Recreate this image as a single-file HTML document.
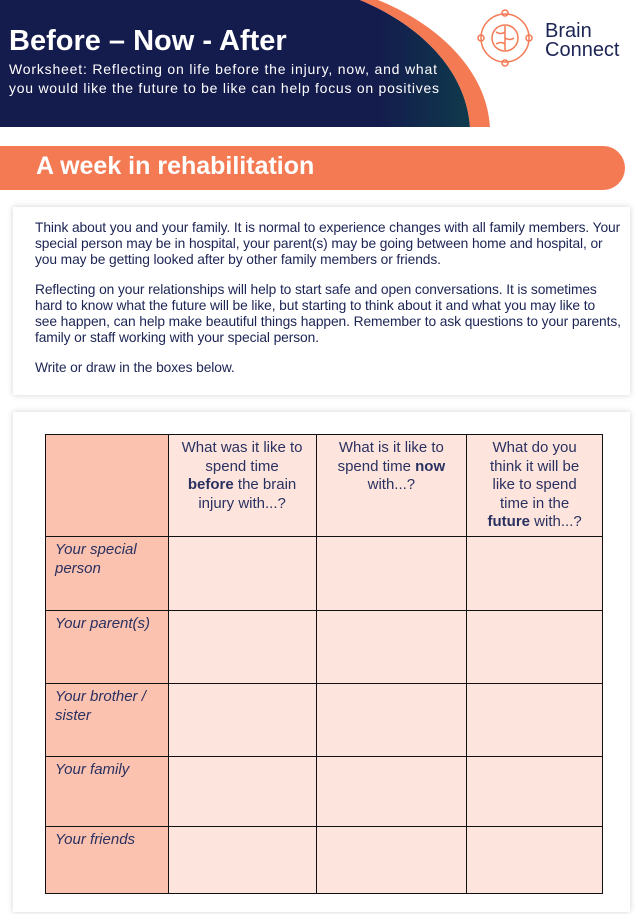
<!DOCTYPE html>
<html><head><meta charset="utf-8"><style>
*{margin:0;padding:0;box-sizing:border-box}
body{width:641px;height:914px;background:#fff;font-family:"Liberation Sans",sans-serif;position:relative;overflow:hidden;color:#1c2454}
.abs{position:absolute}
.card{position:absolute;background:#fff;box-shadow:0 0 6px rgba(0,0,0,0.18)}
table{border-collapse:collapse;position:absolute;left:45px;top:434px;width:558px}
td{border:1px solid #111;background:#fde5de;vertical-align:top;font-size:15px;line-height:18.5px;color:#2a3160}
td.l{background:#fcc2b0;font-style:italic;padding:4px 9px}
tr.h td{text-align:center;padding:4px 4px;white-space:nowrap}
.txt{white-space:nowrap}
</style></head><body>
<svg class="abs" style="left:0;top:0" width="641" height="130">
<defs><linearGradient id="g" x1="0" x2="1"><stop offset="0.8" stop-color="#141b4d"/><stop offset="1" stop-color="#0f3a4c"/></linearGradient></defs>
<path d="M0,0 H360 C420,25 466,70 470,127 H0 Z" fill="url(#g)"/>
<path d="M360,0 H378 C440,25 487,72 490,127 H470 C466,70 420,25 360,0 Z" fill="#f47a54"/>
<g fill="none" stroke="#f47a54" stroke-width="1.5">
<circle cx="505" cy="38" r="24"/>
<circle cx="505" cy="38" r="13"/>
<path d="M505,26 V50 M496,32 q5,3 9,0 M505,38 q5,3 9,0 M496,44 q5,-3 9,0"/>
<circle cx="505" cy="13" r="3"/><circle cx="505" cy="63" r="3"/>
<circle cx="481" cy="38" r="3"/><circle cx="529" cy="38" r="3"/>
</g>
<text x="545" y="37" font-size="20" fill="#1c2454" font-family="Liberation Sans">Brain</text>
<text x="545" y="56" font-size="20" fill="#1c2454" font-family="Liberation Sans">Connect</text>
<text x="9" y="50" font-size="29" font-weight="bold" fill="#fff" font-family="Liberation Sans">Before – Now - After</text>
<text x="9" y="74" font-size="14" fill="#fff" font-family="Liberation Sans" textLength="428">Worksheet: Reflecting on life before the injury, now, and what</text>
<text x="9" y="93" font-size="14" fill="#fff" font-family="Liberation Sans" textLength="430">you would like the future to be like can help focus on positives</text>
</svg>
<div class="abs" style="left:0;top:146px;width:625px;height:44px;background:#f47a54;border-radius:0 22px 22px 0"></div>
<div class="abs" style="left:36px;top:152px;font-size:25px;font-weight:bold;color:#fff">A week in rehabilitation</div>
<div class="card" style="left:13px;top:207px;width:617px;height:188px"></div>
<div class="abs txt" style="left:35px;top:220px;font-size:13.8px;line-height:16px;color:#1c2454;letter-spacing:-0.1px">
<p>Think about you and your family. It is normal to experience changes with all family members. Your<br>special person may be in hospital, your parent(s) may be going between home and hospital, or<br>you may be getting looked after by other family members or friends.</p>
<p style="margin-top:14px">Reflecting on your relationships will help to start safe and open conversations. It is sometimes<br>hard to know what the future will be like, but starting to think about it and what you may like to<br>see happen, can help make beautiful things happen. Remember to ask questions to your parents,<br>family or staff working with your special person.</p>
<p style="margin-top:14px">Write or draw in the boxes below.</p>
</div>
<div class="card" style="left:13px;top:412px;width:617px;height:500px"></div>
<table>
<colgroup><col style="width:123px"><col style="width:148px"><col style="width:151px"><col style="width:136px"></colgroup>
<tr class="h" style="height:102px"><td class="l"></td><td>What was it like to<br>spend time<br><b>before</b> the brain<br>injury with...?</td><td>What is it like to<br>spend time <b>now</b><br>with...?</td><td>What do you<br>think it will be<br>like to spend<br>time in the<br><b>future</b> with...?</td></tr>
<tr style="height:74px"><td class="l">Your special<br>person</td><td></td><td></td><td></td></tr>
<tr style="height:73px"><td class="l">Your parent(s)</td><td></td><td></td><td></td></tr>
<tr style="height:73px"><td class="l">Your brother /<br>sister</td><td></td><td></td><td></td></tr>
<tr style="height:70px"><td class="l">Your family</td><td></td><td></td><td></td></tr>
<tr style="height:67px"><td class="l">Your friends</td><td></td><td></td><td></td></tr>
</table>
</body></html>
